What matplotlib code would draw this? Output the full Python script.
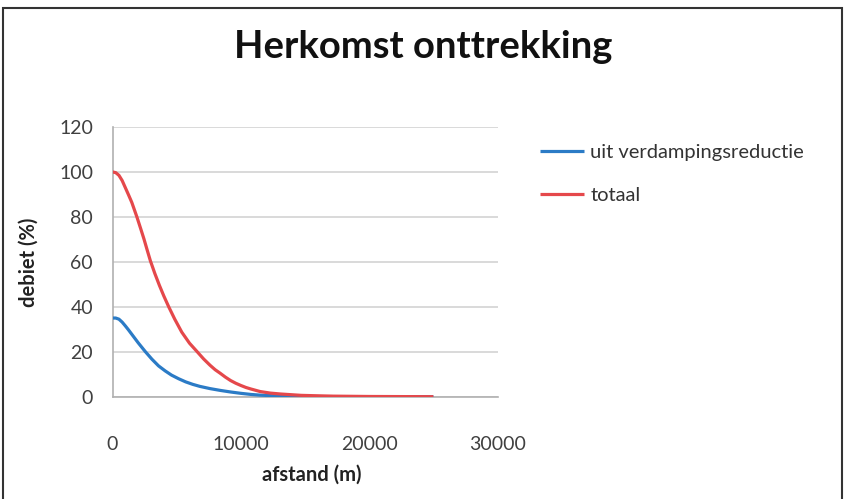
import numpy as np
import matplotlib.pyplot as plt
from matplotlib.patches import Rectangle

# data
afstand_rood = [0, 250, 500, 750, 1000, 1250, 1500, 1900, 2200, 2450, 2700, 2950, 3300,
                3650, 4000, 4380, 4850, 5400, 6000, 6600, 7100, 7600, 8000, 8400, 8800,
                9200, 9600, 10000, 10400, 10800, 11500, 12300, 13100, 14700, 16000,
                17200, 20000, 25000]
totaal = [100, 99.7, 98.5, 96.2, 93, 89.8, 86.5, 80, 74.7, 70.2, 65.3, 60.5, 54.8,
          49.6, 44.8, 40, 34.5, 28.7, 23.8, 20, 16.8, 14, 12, 10.4, 8.7,
          7.2, 6.0, 5.0, 4.1, 3.4, 2.3, 1.6, 1.2, 0.6, 0.4,
          0.25, 0.1, 0]

afstand_blauw = [0, 250, 500, 750, 1000, 1250, 1500, 2000, 2550, 3070, 3590, 4100,
                 4600, 5150, 5700, 6250, 6800, 7600, 8400, 9200, 10000, 10800,
                 11500, 13000, 15000, 17000, 25000]
verdamping = [35, 35, 34.5, 33.2, 31.5, 29.7, 27.8, 24, 20.1, 16.7, 13.7, 11.5,
              9.6, 8.0, 6.6, 5.5, 4.6, 3.6, 2.8, 2.1, 1.5, 1.0,
              0.7, 0.3, 0.1, 0.03, 0]

y_ticks = [0, 20, 40, 60, 80, 100, 120]
x_ticks = [0, 10000, 20000, 30000]

plt.rcParams['font.family'] = ['Lato', 'DejaVu Sans']

fig = plt.figure(figsize=(8.47, 4.99), dpi=100)
ax = fig.add_axes([112.5 / 847, 102.3 / 499, 385 / 847, 269.7 / 499])

ax.plot(afstand_blauw, verdamping, color='#2B7BC6', lw=2.3, label='uit verdampingsreductie',
        solid_capstyle='butt', solid_joinstyle='round', zorder=3)
ax.plot(afstand_rood, totaal, color='#E5484B', lw=2.3, label='totaal',
        solid_capstyle='butt', solid_joinstyle='round', zorder=4)

ax.set_xlim(0, 30000)
ax.set_ylim(0, 120)
ax.set_xticks(x_ticks)
ax.set_yticks(y_ticks)
ax.set_xticklabels([str(t) for t in x_ticks])
ax.set_yticklabels([str(t) for t in y_ticks])
ax.tick_params(axis='y', length=0, pad=14, labelsize=14, labelcolor='#404040')
ax.tick_params(axis='x', length=0, pad=28, labelsize=14, labelcolor='#404040')

# rasterlijnen
ax.grid(axis='y', color='#D3D3D3', lw=1.2, zorder=0)
ax.set_axisbelow(True)
for s in ['top', 'right']:
    ax.spines[s].set_visible(False)
for s in ['left', 'bottom']:
    ax.spines[s].set_color('#B0B0B0')
    ax.spines[s].set_linewidth(1.2)

ax.set_ylabel('debiet (%)', fontsize=14.5, fontweight='bold', color='#222222')
ax.yaxis.set_label_coords(-74 / 385, 0.5)
ax.set_xlabel('afstand (m)', fontsize=14.5, fontweight='bold', color='#222222')
ax.xaxis.set_label_coords((312 - 112.5) / 385, -68 / 269.7)

fig.text(423 / 847, 1 - 47 / 499, 'Herkomst onttrekking', fontsize=27.5, fontweight='bold',
         ha='center', va='center', color='#111111')

fig.legend(loc='upper left', bbox_to_anchor=(540 / 847, 1 - 144 / 499), frameon=False,
           fontsize=14.5, handlelength=2.2, handletextpad=0.3, labelspacing=1.3,
           borderpad=0, borderaxespad=0, labelcolor='#333333')

# rand om de figuur
fig.patches.append(Rectangle((3 / 847, -0.05), 839 / 847, 1.05 - 8 / 499,
                             transform=fig.transFigure, fill=False,
                             edgecolor='#333333', lw=1.5))

fig.savefig('out.png', dpi=100)
